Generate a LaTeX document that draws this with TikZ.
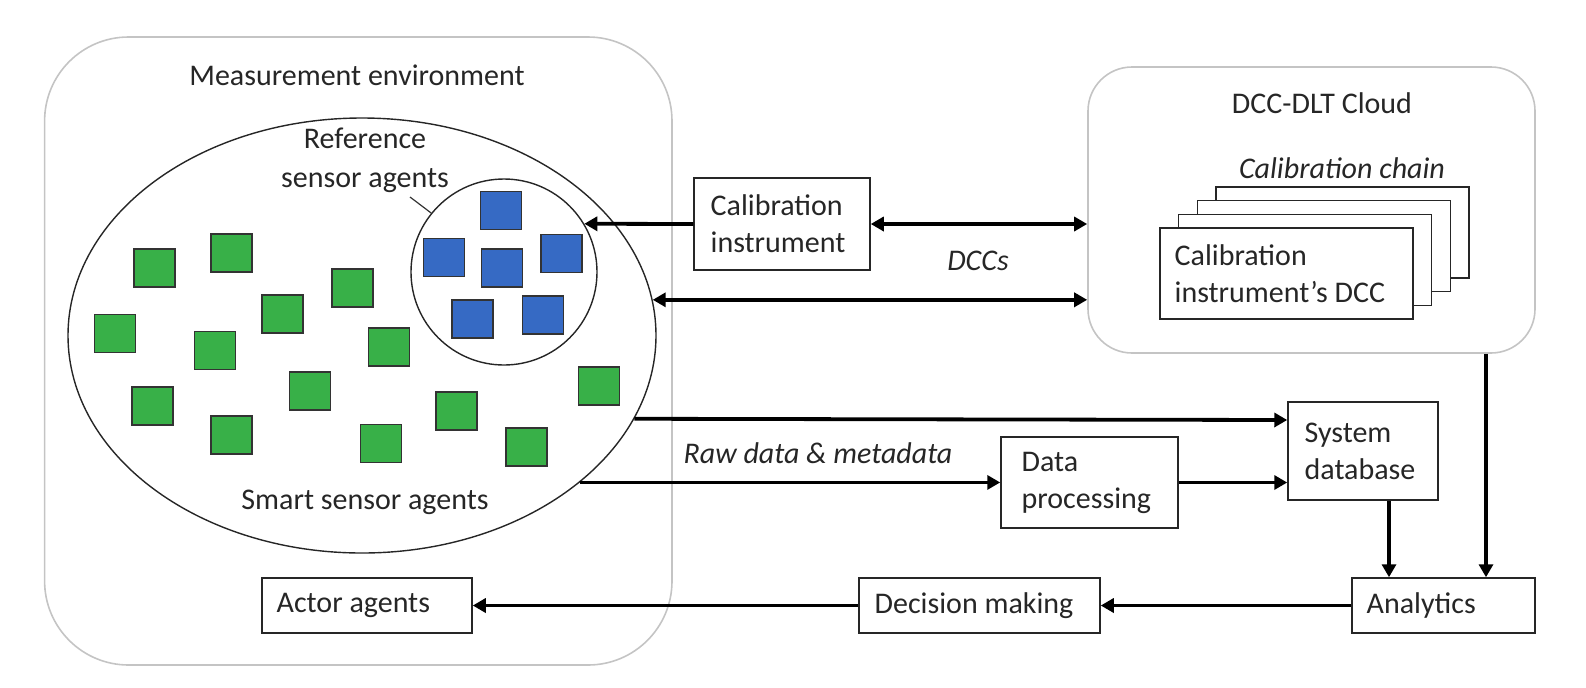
\documentclass[tikz,border=0pt]{standalone}
\usepackage{fontspec}
\setmainfont{Carlito}
\usetikzlibrary{arrows.meta,shapes.geometric,calc}
\definecolor{sqgreen}{RGB}{56,176,72}
\definecolor{sqblue}{RGB}{54,106,196}
\definecolor{framec}{RGB}{196,196,196}
\definecolor{txtc}{RGB}{38,38,38}
\begin{document}
\begin{tikzpicture}[x=0.5pt,y=-0.5pt,
  grpbox/.style={draw=framec,line width=0.8pt,rectangle,inner sep=0pt},
  boxn/.style={draw=black!85,line width=0.75pt,rectangle,inner sep=0pt,fill=white},
  txt/.style={inner sep=0pt,align=left,text=txtc,font=\fontsize{15}{18.5}\selectfont},
  ctxt/.style={inner sep=0pt,align=center,text=txtc,font=\fontsize{15}{19.5}\selectfont},
  itxt/.style={inner sep=0pt,text=txtc,font=\fontsize{15}{18.5}\selectfont\itshape},
  gsq/.style={draw=black!80,line width=0.6pt,fill=sqgreen,rectangle,inner sep=0pt,minimum width=20.5pt,minimum height=19pt},
  bsq/.style={draw=black!80,line width=0.6pt,fill=sqblue,rectangle,inner sep=0pt,minimum width=20.5pt,minimum height=19pt},
  arr/.style={line width=1.9pt,-{Triangle[length=6.5pt,width=7pt]}},
  darr/.style={line width=1.9pt,{Triangle[length=6.5pt,width=7pt]}-{Triangle[length=6.5pt,width=7pt]}},
  thinline/.style={line width=0.6pt,draw=black!80}
]
\useasboundingbox (0,0) rectangle (1586,687);

% group boxes
\node[grpbox,rounded corners=42pt,minimum width=313.7pt,minimum height=314pt] (env) at (358.3,351) {};
\node[grpbox,rounded corners=22pt,minimum width=223.5pt,minimum height=143pt] (cloud) at (1311.5,210) {};

\node[ctxt] (envt) at (357,75) {Measurement environment};
\node[ctxt] (cloudt) at (1322,103) {DCC-DLT Cloud};

% ellipse and reference circle
\node[draw=black!85,line width=0.7pt,ellipse,minimum width=294pt,minimum height=217.5pt,inner sep=0pt] (ell) at (362,335.5) {};
\node[draw=black!85,line width=0.7pt,circle,minimum size=93pt,inner sep=0pt] (refc) at (504,272) {};
\node[ctxt] (reft) at (365,160) {Reference\\sensor agents};
\node[ctxt] (smartt) at (365,502) {Smart sensor agents};
\coordinate (ptr) at (410,197);
\draw[thinline] (ptr) -- (refc.141);

% green squares
\foreach \px/\py [count=\i] in {154.5/268,231.5/253,352.5/288,282.5/314,115/333.5,215/350.5,389/347,152.5/406,231.5/435,310/391,381/443.5,456.5/411,526.5/447,599/386}
  \node[gsq] (g\i) at (\px,\py) {};
% blue squares
\foreach \px/\py [count=\i] in {501/210.5,444/257.5,502/268,561.5/253.5,472.5/319,543/315}
  \node[bsq] (b\i) at (\px,\py) {};

% calibration chain cards
\node[boxn,minimum width=126.5pt,minimum height=45.5pt] (card4) at (1342.5,232.5) {};
\node[boxn,minimum width=126.5pt,minimum height=45.5pt] (card3) at (1323.8,246.2) {};
\node[boxn,minimum width=126.5pt,minimum height=45.5pt] (card2) at (1305.2,259.8) {};
\node[boxn,minimum width=126.5pt,minimum height=45.5pt] (card1) at (1286.5,273.5) {};
\node[txt,anchor=west] (card1t) at ([xshift=7.5pt]card1.west) {Calibration\\instrument’s DCC};
\node[itxt] (chaint) at (1342,168) {Calibration chain};

% process boxes
\node[boxn,minimum width=88pt,minimum height=46pt] (ci) at (782,224) {};
\node[txt,anchor=west] (cit) at ([xshift=8.5pt]ci.west) {Calibration\\instrument};
\node[boxn,minimum width=75pt,minimum height=49pt] (sysdb) at (1363,451) {};
\node[txt,anchor=west] (sysdbt) at ([xshift=8.5pt]sysdb.west) {System\\database};
\node[boxn,minimum width=88.5pt,minimum height=45.5pt] (dp) at (1089.5,482.5) {};
\node[txt,anchor=west] (dpt) at ([xshift=10.5pt]dp.west) {Data\\processing};
\node[boxn,minimum width=120.5pt,minimum height=27.5pt] (dm) at (979.5,605.5) {};
\node[txt,anchor=west] (dmt) at ([xshift=8pt]dm.west) {Decision making};
\node[boxn,minimum width=91.5pt,minimum height=27.5pt] (an) at (1443.5,605.5) {};
\node[txt,anchor=west] (ant) at ([xshift=7.5pt]an.west) {Analytics};
\node[boxn,minimum width=105pt,minimum height=27.5pt] (actor) at (367,605.5) {};
\node[txt,anchor=west] (actort) at ([xshift=7.5pt]actor.west) {Actor agents};

\node[itxt] (dccst) at (978,261) {DCCs};
\node[itxt] (rawt) at (818,453) {Raw data \& metadata};

% connectors
\draw[arr] (ci.west) -- (refc.31);
\draw[darr] (ci.east) -- (ci.east -| cloud.west);
\coordinate (e1) at (ell.7);
\draw[darr] (e1) -- (e1 -| cloud.west);
\coordinate (e2) at (ell.-17);
\draw[arr] (e2) -- ([yshift=15.5pt]sysdb.west);
\coordinate (e3) at (ell.-34);
\draw[arr] (e3) -- (e3 -| dp.west);
\draw[arr] (dp.east) -- (dp.east -| sysdb.west);
\coordinate (sb) at ([xshift=13pt]sysdb.south);
\draw[arr] (sb) -- (sb |- an.north);
\coordinate (cb) at ([xshift=87.25pt]cloud.south);
\draw[arr] (cb) -- (cb |- an.north);
\draw[arr] (an.west) -- (dm.east);
\draw[arr] (dm.west) -- (actor.east);
\end{tikzpicture}
\end{document}
